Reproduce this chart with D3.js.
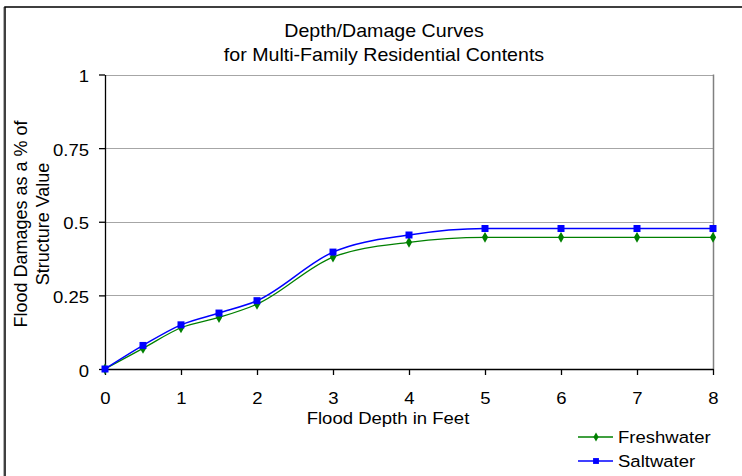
<!DOCTYPE html>
<html>
<head>
<meta charset="utf-8">
<script src="https://cdn.jsdelivr.net/npm/d3@7"></script>
<style>
  html, body { margin: 0; padding: 0; background: #fff; }
  svg { display: block; font-family: "Liberation Sans", Arial, sans-serif; }
</style>
</head>
<body>
<svg id="chart" width="742" height="476"></svg>
<script>
// Flood depth (feet) at which damage was tabulated
const depths = [0, 0.5, 1, 1.5, 2, 3, 4, 5, 6, 7, 8];
// Damage as a fraction of structure value
const freshwater = [0, 0.07, 0.14, 0.175, 0.22, 0.38, 0.43, 0.447, 0.447, 0.447, 0.447];
const saltwater  = [0, 0.08, 0.15, 0.19, 0.232, 0.397, 0.455, 0.477, 0.477, 0.477, 0.477];
const seriesNames = ["Freshwater", "Saltwater"];
const xTicks = [0, 1, 2, 3, 4, 5, 6, 7, 8];
const yTicks = [0, 0.25, 0.5, 0.75, 1];
const yTickLabels = ["0", "0.25", "0.5", "0.75", "1"];

const STRETCH = 1.09;   // text is drawn slightly wide
const svg = d3.select("#chart");

// places a horizontally stretched text anchored at (x, y)
function label(parent, x, y, str, size, anchor) {
  return parent.append("text")
    .attr("transform", `translate(${x},${y}) scale(${STRETCH},1)`)
    .attr("text-anchor", anchor || "start")
    .attr("font-size", size).attr("fill", "#000").text(str);
}

// outer chart frame with a light shadow
svg.append("rect").attr("x", 3.5).attr("y", 7.5).attr("width", 760).attr("height", 500)
  .attr("fill", "none").attr("stroke", "#b0b0b0").attr("stroke-width", 1);
svg.append("rect").attr("x", 5).attr("y", 7).attr("width", 760).attr("height", 500)
  .attr("fill", "#fff").attr("stroke", "#000").attr("stroke-width", 1.5);

const x = d3.scaleLinear().domain([0, 8]).range([105, 713]);
const y = d3.scaleLinear().domain([0, 1]).range([369, 74.5]);

// gridlines
svg.append("g").selectAll("line").data(yTicks.filter(d => d > 0)).join("line")
  .attr("x1", x(0)).attr("x2", x(8))
  .attr("y1", d => Math.round(y(d)) + 0.5).attr("y2", d => Math.round(y(d)) + 0.5)
  .attr("stroke", "#a6a6a6").attr("stroke-width", 1.2);

// right plot border
svg.append("line").attr("x1", x(8) + 0.5).attr("x2", x(8) + 0.5)
  .attr("y1", y(1)).attr("y2", y(0))
  .attr("stroke", "#808080").attr("stroke-width", 1.5);

// axes (tick labels drawn separately so they can be stretched)
const xAxis = d3.axisBottom(x).tickValues(xTicks).tickSize(6).tickSizeOuter(0).tickFormat("");
const gx = svg.append("g").attr("transform", `translate(0,${y(0)})`).call(xAxis);
gx.select(".domain").attr("stroke", "#000").attr("stroke-width", 1.3);
gx.selectAll(".tick line").attr("stroke", "#000").attr("stroke-width", 1.3);
gx.selectAll(".tick").each(function(d) {
  label(d3.select(this), 0, 35, d3.format("d")(d), 17, "middle");
});

const yAxis = d3.axisLeft(y).tickValues(yTicks).tickSize(6).tickSizeOuter(0).tickFormat("");
const gy = svg.append("g").attr("transform", `translate(${x(0)},0)`).call(yAxis);
gy.select(".domain").attr("stroke", "#000").attr("stroke-width", 1.3);
gy.selectAll(".tick line").attr("stroke", "#000").attr("stroke-width", 1.3);
gy.selectAll(".tick").each(function(d, i) {
  label(d3.select(this), -16, 7, yTickLabels[i], 17, "end");
});

// titles
label(svg, 384, 37, "Depth/Damage Curves", 18, "middle");
label(svg, 384, 61, "for Multi-Family Residential Contents", 18, "middle");
label(svg, 388, 424, "Flood Depth in Feet", 17, "middle");

const yt = svg.append("text").attr("text-anchor", "middle").attr("font-size", 18).attr("fill", "#000")
  .attr("transform", "translate(0,224) rotate(-90)");
yt.append("tspan").attr("x", 0).attr("y", 27).text("Flood Damages as a % of");
yt.append("tspan").attr("x", 0).attr("y", 49).text("Structure Value");

// series
const series = [
  { name: seriesNames[0], values: freshwater, color: "#008000", shape: d3.symbolDiamond, size: 34, width: 1.3 },
  { name: seriesNames[1], values: saltwater, color: "#0000ff", shape: d3.symbolSquare, size: 49, width: 1.5 }
];

const line = d3.line().x(d => x(d[0])).y(d => y(d[1])).curve(d3.curveMonotoneX);

series.forEach(s => {
  const pts = depths.map((d, i) => [d, s.values[i]]);
  svg.append("path").datum(pts).attr("d", line)
    .attr("fill", "none").attr("stroke", s.color).attr("stroke-width", s.width);
  svg.append("g").selectAll("path").data(pts).join("path")
    .attr("transform", d => `translate(${x(d[0])},${y(d[1])})`)
    .attr("d", d3.symbol().type(s.shape).size(s.size))
    .attr("fill", s.color);
});

// legend
const legend = svg.append("g");
series.forEach((s, i) => {
  const ly = 437 + i * 24;
  legend.append("line").attr("x1", 578).attr("x2", 613).attr("y1", ly).attr("y2", ly)
    .attr("stroke", s.color).attr("stroke-width", s.width);
  legend.append("path").attr("transform", `translate(596,${ly})`)
    .attr("d", d3.symbol().type(s.shape).size(s.size * 0.7)).attr("fill", s.color);
  label(legend, 618, ly + 6, s.name, 17, "start");
});
</script>
</body>
</html>
